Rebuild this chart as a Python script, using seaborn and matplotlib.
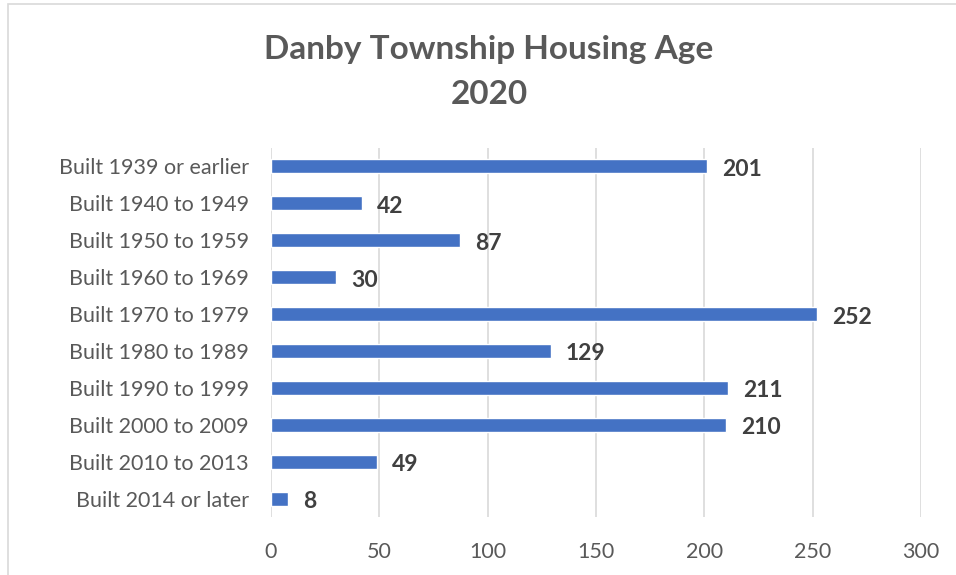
import matplotlib
matplotlib.use("Agg")
import matplotlib.pyplot as plt
import seaborn as sns
import pandas as pd

categories = ["Built 1939 or earlier", "Built 1940 to 1949", "Built 1950 to 1959",
              "Built 1960 to 1969", "Built 1970 to 1979", "Built 1980 to 1989",
              "Built 1990 to 1999", "Built 2000 to 2009", "Built 2010 to 2013",
              "Built 2014 or later"]
units = [201, 42, 87, 30, 252, 129, 211, 210, 49, 8]
ticks = [0, 50, 100, 150, 200, 250, 300]

df = pd.DataFrame({"Category": categories, "Units": units})

sns.set_style("white")
plt.rcParams['font.family'] = ['Lato', 'DejaVu Sans']

fig = plt.figure(figsize=(9.56, 5.75), dpi=100)
ax = fig.add_axes([271 / 956, 1 - 517 / 575, 650 / 956, 369 / 575])

sns.barplot(data=df, y="Category", x="Units", color="#4472C4", width=0.38,
            saturation=1, ax=ax, orient="h")

ax.set_xlim(0, 300)
ax.set_ylim(len(categories) - 0.5, -0.5)
ax.set_xticks(ticks)
ax.set_xticklabels([str(t) for t in ticks])
ax.grid(axis="x", color="#D9D9D9", linewidth=1.2)
ax.set_axisbelow(True)
for s in ax.spines.values():
    s.set_visible(False)
ax.tick_params(axis="both", length=0, labelsize=15.5, colors="#595959")
ax.tick_params(axis="x", pad=18)
ax.tick_params(axis="y", pad=16)
ax.set_xlabel("")
ax.set_ylabel("")

for i, v in enumerate(units):
    ax.text(v + 7, i + 0.08, str(v), va="center", ha="left", fontsize=16.5,
            fontweight="bold", color="#404040")

fig.text(489 / 956, 1 - 50 / 575, "Danby Township Housing Age", ha="center",
         va="center", fontsize=24, fontweight="bold", color="#595959")
fig.text(489 / 956, 1 - 95 / 575, "2020", ha="center", va="center",
         fontsize=24, fontweight="bold", color="#595959")

frame = plt.Rectangle((8 / 956, -0.01), 1.0, 1 - 4 / 575 + 0.01, transform=fig.transFigure,
                      fill=False, edgecolor="#D9D9D9", linewidth=1.2)
fig.patches.append(frame)

fig.savefig("out.png", dpi=100, facecolor="white")
